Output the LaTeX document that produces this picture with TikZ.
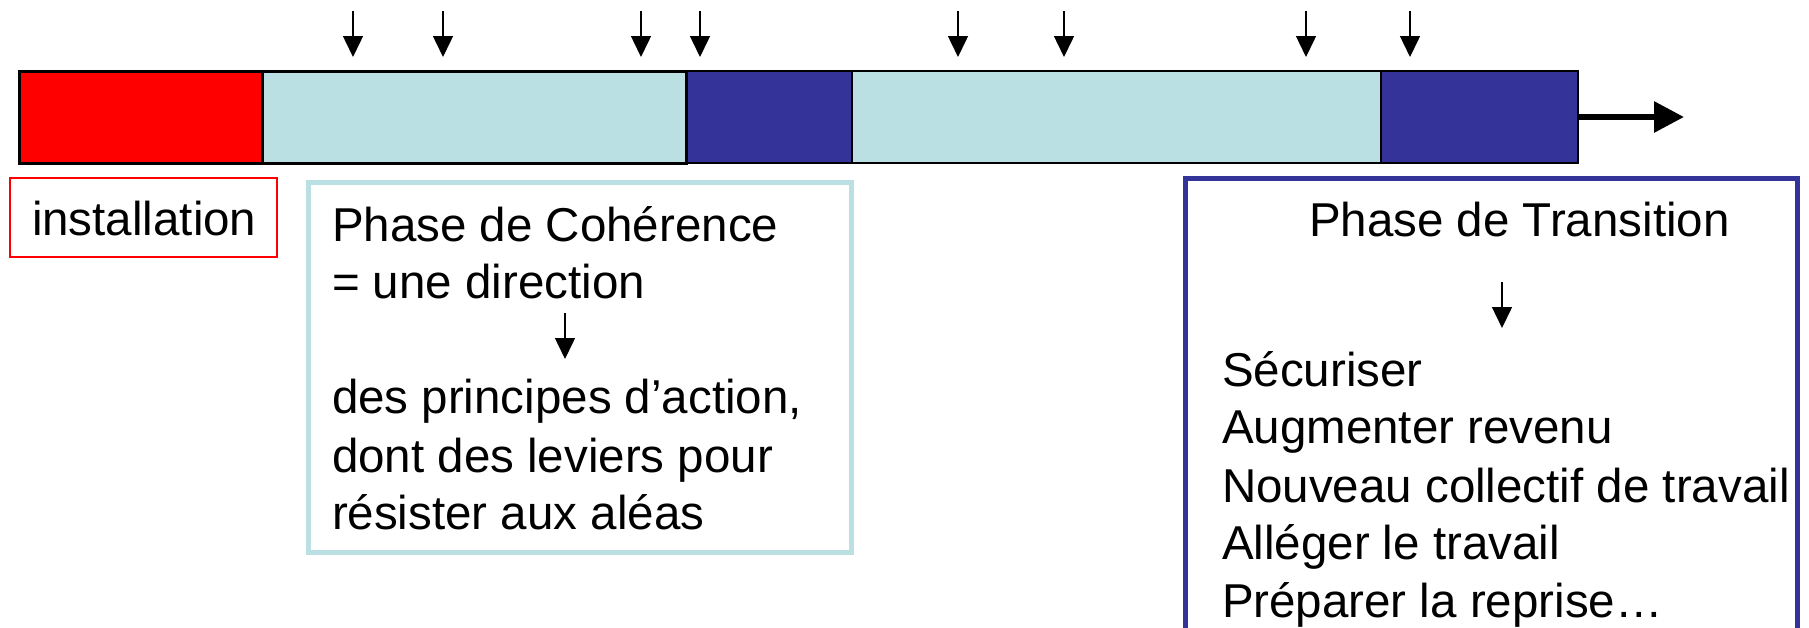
\documentclass[tikz,border=0pt]{standalone}
\usepackage{fontspec}
\setmainfont{Liberation Sans}
\usetikzlibrary{arrows.meta}

\definecolor{phasered}{HTML}{FF0000}
\definecolor{phasecyan}{HTML}{BBE0E3}
\definecolor{phaseblue}{HTML}{333399}

\tikzset{
  seg/.style={draw=black, rectangle, inner sep=0pt, outer sep=0pt, minimum height=92pt},
  segthick/.style={seg, line width=3pt},
  segthin/.style={seg, line width=2pt},
  tick/.style={line width=1.5pt, -{Triangle[length=21pt,width=20pt]}},
  bigarrow/.style={line width=6pt, -{Triangle[length=30pt,width=30pt]}},
  txt/.style={anchor=base west, inner sep=0pt, outer sep=0pt,
              font=\fontsize{47.5pt}{57pt}\selectfont},
}

\begin{document}
\begin{tikzpicture}[x=1pt, y=-1pt]
  \useasboundingbox (0,0) rectangle (1809,627);

  % time line: phases
  \node[segthin, fill=phaseblue, minimum width=166pt] (blueA) at (769,117) {};
  \node[segthin, fill=phasecyan, minimum width=529pt] (cyanB) at (1116.5,117) {};
  \node[segthin, fill=phaseblue, minimum width=197pt] (blueB) at (1479.5,117) {};
  \node[segthick, fill=phasered, minimum width=243pt] (red) at (140.5,117) {};
  \node[segthick, fill=phasecyan, minimum width=424pt] (cyanA) at (474,117) {};

  % continuation arrow
  \coordinate (endT) at (1684,117);
  \draw[bigarrow] (blueB.east) -- (endT);

  % event markers above the time line
  \foreach \x [count=\i] in {353,443,641,700,958,1064,1306,1410} {
    \coordinate (mt\i) at (\x,11);
    \coordinate (mb\i) at (\x,57);
    \draw[tick] (mt\i) -- (mb\i);
  }

  % installation label
  \draw[phasered, line width=1.5pt] (10,178) rectangle (277,257);
  \node[txt] (inst) at (32,235) {installation};

  % coherence phase box
  \draw[phasecyan, line width=5pt] (308,182) rectangle (851,552);
  \node[txt] (c1) at (332,241) {Phase de Cohérence};
  \node[txt] (c2) at (332,298) {= une direction};
  \node[txt] (c3) at (332,413) {des principes d’action,};
  \node[txt] (c4) at (332,472) {dont des leviers pour};
  \node[txt] (c5) at (332,529) {résister aux aléas};
  \coordinate (ca) at (565,313);
  \coordinate (cb) at (565,359);
  \draw[tick] (ca) -- (cb);

  % transition phase box (runs past the lower edge)
  \draw[phaseblue, line width=5pt] (1185,640) -- (1185,178) -- (1797,178) -- (1797,640);
  \node[txt] (t0) at (1309,236) {Phase de Transition};
  \coordinate (ta) at (1502,282);
  \coordinate (tb) at (1502,328);
  \draw[tick] (ta) -- (tb);
  \node[txt] (t1) at (1222,386) {Sécuriser};
  \node[txt] (t2) at (1222,443) {Augmenter revenu};
  \node[txt] (t3) at (1222,502) {Nouveau collectif de travail};
  \node[txt] (t4) at (1222,559) {Alléger le travail};
  \node[txt] (t5) at (1222,617) {Préparer la reprise…};
\end{tikzpicture}
\end{document}
